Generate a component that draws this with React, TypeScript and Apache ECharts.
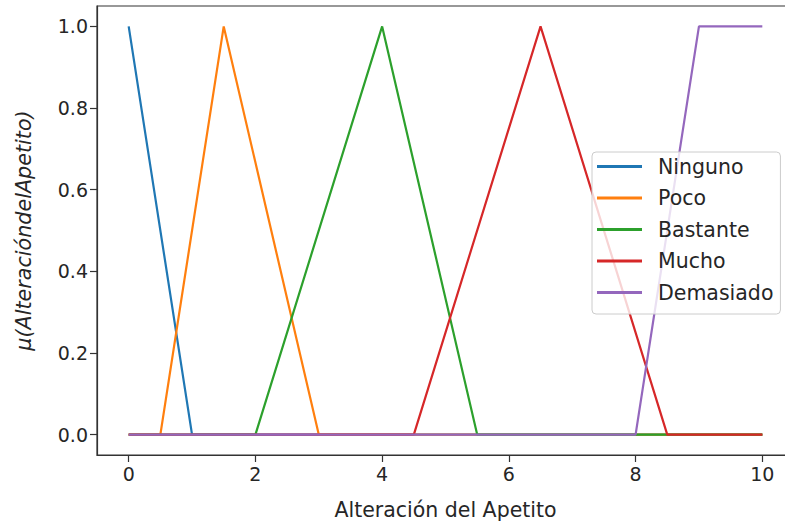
import React, { useEffect, useRef } from "react";
import * as echarts from "echarts";

// Membership functions of the fuzzy variable, given as breakpoints [x, mu]
const ninguno: number[][] = [[0, 1], [1, 0], [10, 0]];
const poco: number[][] = [[0, 0], [0.5, 0], [1.5, 1], [3, 0], [10, 0]];
const bastante: number[][] = [[0, 0], [2, 0], [4, 1], [5.5, 0], [10, 0]];
const mucho: number[][] = [[0, 0], [4.5, 0], [6.5, 1], [8.5, 0], [10, 0]];
const demasiado: number[][] = [[0, 0], [8, 0], [9, 1], [10, 1]];

const seriesNames = ["Ninguno", "Poco", "Bastante", "Mucho", "Demasiado"];
const seriesData = [ninguno, poco, bastante, mucho, demasiado];
const colors = ["#1f77b4", "#ff7f0e", "#2ca02c", "#d62728", "#9467bd"];

const xTicks = [0, 2, 4, 6, 8, 10];
const yTicks = [0, 0.2, 0.4, 0.6, 0.8, 1.0];

const FONT = "DejaVu Sans";
const TEXT = "#262626";

// The canvas is a little wider than the window so the right spine sits off-screen
const CANVAS_W = 810;

export default function App() {
  const ref = useRef<HTMLDivElement>(null);

  useEffect(() => {
    if (!ref.current) return;
    const chart = echarts.init(ref.current, undefined, { renderer: "svg" });
    chart.setOption({
      animation: false,
      backgroundColor: "#ffffff",
      textStyle: { fontFamily: FONT },
      grid: {
        left: 97,
        top: 6,
        width: 697,
        height: 451,
        show: true,
        borderColor: "#333",
        borderWidth: 1.2,
        containLabel: false,
      },
      xAxis: {
        type: "value",
        min: -0.5,
        max: 10.5,
        name: "Alteración del Apetito",
        nameLocation: "middle",
        nameGap: 44,
        nameTextStyle: { fontFamily: FONT, fontSize: 20.5, color: TEXT },
        splitLine: { show: false },
        axisLine: { show: true, onZero: false, lineStyle: { color: "#333", width: 1.2 } },
        axisTick: {
          show: true,
          length: 7,
          lineStyle: { color: "#333", width: 1.2 },
          customValues: xTicks,
        },
        axisLabel: {
          fontFamily: FONT,
          fontSize: 19,
          color: TEXT,
          margin: 9,
          customValues: xTicks,
          formatter: (v: number) => String(v),
        },
      },
      yAxis: {
        type: "value",
        min: -0.05,
        max: 1.05,
        name: "μ(AlteracióndelApetito)",
        nameLocation: "middle",
        nameRotate: 90,
        nameGap: 63,
        nameTextStyle: {
          fontFamily: FONT,
          fontSize: 20.7,
          fontStyle: "italic",
          color: TEXT,
        },
        splitLine: { show: false },
        axisLine: { show: true, onZero: false, lineStyle: { color: "#333", width: 1.2 } },
        axisTick: {
          show: true,
          length: 7,
          lineStyle: { color: "#333", width: 1.2 },
          customValues: yTicks,
        },
        axisLabel: {
          fontFamily: FONT,
          fontSize: 19,
          color: TEXT,
          margin: 9,
          customValues: yTicks,
          formatter: (v: number) => v.toFixed(1),
        },
      },
      legend: {
        data: seriesNames,
        orient: "vertical",
        left: 592,
        top: 152,
        z: 10,
        padding: [4, 7, 11, 5],
        itemWidth: 45,
        itemHeight: 3,
        itemGap: 10.5,
        icon: "rect",
        backgroundColor: "rgba(255,255,255,0.8)",
        borderColor: "#cccccc",
        borderWidth: 1,
        borderRadius: 4,
        textStyle: {
          fontFamily: FONT,
          fontSize: 20.5,
          color: TEXT,
          lineHeight: 20,
          padding: [0, 0, 0, 11],
        },
      },
      series: seriesNames.map((name, i) => ({
        name,
        type: "line",
        data: seriesData[i],
        symbol: "none",
        lineStyle: { color: colors[i], width: 2.2 },
        itemStyle: { color: colors[i] },
        z: 2,
      })),
    });
    return () => chart.dispose();
  }, []);

  return (
    <div
      ref={ref}
      style={{ position: "fixed", left: 0, top: 0, width: CANVAS_W, height: 525 }}
    />
  );
}
